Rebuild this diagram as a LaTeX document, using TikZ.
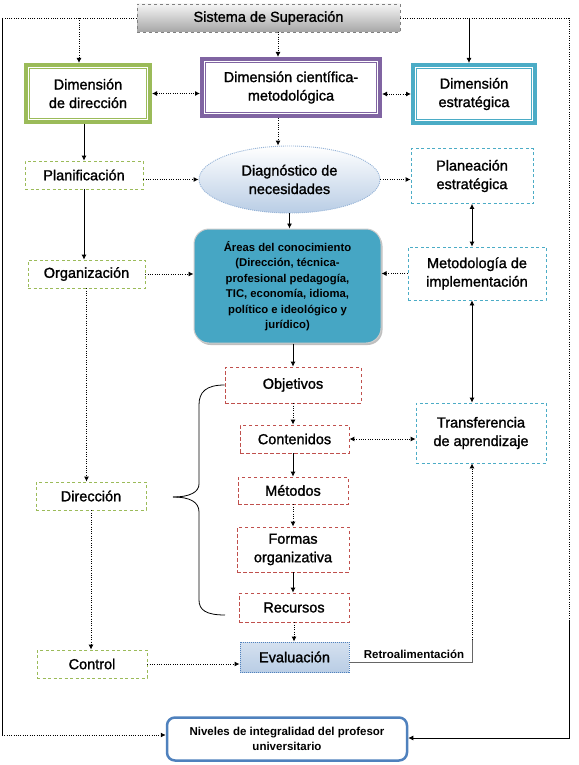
\documentclass[tikz,border=0pt]{standalone}
\usepackage{fontspec}
\setmainfont{Liberation Sans}
\newfontfamily\heavyfont[FakeBold=1.4]{Liberation Sans}
\usetikzlibrary{arrows.meta,shapes.geometric,shadows}

\definecolor{dimgreen}{RGB}{155,187,89}
\definecolor{dimpurple}{RGB}{128,100,162}
\definecolor{dimblue}{RGB}{75,172,198}
\definecolor{unitred}{RGB}{192,80,77}
\definecolor{nivblue}{RGB}{79,129,189}
\definecolor{paleblue}{RGB}{185,205,229}
\definecolor{edgeblue}{RGB}{149,179,215}
\definecolor{areafill}{RGB}{70,166,196}

\newcommand{\lbl}{\heavyfont\fontsize{14.5}{18.5}\selectfont}
\newcommand{\smallbf}{\fontsize{11.3}{15.5}\selectfont\bfseries}

\tikzset{
	dimbox/.style={draw=#1, line width=4pt, align=center, font=\lbl, inner sep=0pt},
	gbox/.style={draw=dimgreen, line width=0.8pt, dash pattern=on 3pt off 2.5pt, align=center, font=\lbl, inner sep=0pt},
	cbox/.style={draw=dimblue, line width=0.8pt, dash pattern=on 3pt off 2.5pt, align=center, font=\lbl, inner sep=0pt},
	rbox/.style={draw=unitred, line width=0.8pt, dash pattern=on 3.5pt off 2.5pt, align=center, font=\lbl, inner sep=0pt},
	dotarr/.style={line width=0.9pt, dash pattern=on 1pt off 1.3pt, -{Latex[length=5pt,width=5pt]}},
	solarr/.style={line width=0.8pt, -{Latex[length=5pt,width=5pt]}},
}

\begin{document}
\begin{tikzpicture}[x=1pt,y=-1pt]
	%%%%% START %%%%%
	\useasboundingbox (0,0) rectangle (578,765);
	
	\node[draw=gray, dashed, line width=0.8pt, top color=gray!8, bottom color=gray!70, font=\lbl, minimum width=263pt, minimum height=28pt, inner sep=0pt] (sis) at (268.5,18) {Sistema de Superación};
	
	\node[dimbox=dimgreen, minimum width=124pt, minimum height=57pt] (ddir) at (88,93.5) {Dimensión\\de dirección};
	\node[dimbox=dimpurple, minimum width=178pt, minimum height=57pt] (dcm) at (291,87.5) {Dimensión científica-\\metodológica};
	\node[dimbox=dimblue, minimum width=122pt, minimum height=58pt] (dest) at (474,94) {Dimensión\\estratégica};
	\foreach \n/\c in {ddir/dimgreen, dcm/dimpurple, dest/dimblue}
		\draw[draw=\c, line width=1.5pt] ([shift={(5.5pt,-5.5pt)}]\n.north west) rectangle ([shift={(-5.5pt,5.5pt)}]\n.south east);
	
	\node[gbox, minimum width=118pt, minimum height=28pt] (plan) at (84,175) {Planificación};
	\node[gbox, minimum width=117pt, minimum height=28pt] (org) at (86.5,274) {Organización};
	\node[gbox, minimum width=110pt, minimum height=28pt] (dirc) at (91,496) {Dirección};
	\node[gbox, minimum width=110pt, minimum height=28pt] (ctrl) at (92,664) {Control};
	
	\node[ellipse, draw=edgeblue, line width=0.9pt, dash pattern=on 1pt off 1pt, top color=white, bottom color=paleblue, align=center, font=\lbl, inner sep=0pt, minimum width=181pt, minimum height=67pt] (diag) at (289.5,179.5) {Diagnóstico de\\necesidades};
	
	\node[cbox, minimum width=122pt, minimum height=55pt] (pest) at (472,176) {Planeación\\estratégica};
	\node[cbox, minimum width=138pt, minimum height=53pt] (met) at (477,273.5) {Metodología de\\implementación};
	\node[cbox, minimum width=130pt, minimum height=60pt] (trans) at (481,433) {Transferencia\\de aprendizaje};
	
	\node[draw=black!20, line width=1pt, fill=areafill, rounded corners=15pt, drop shadow={shadow xshift=1.5pt, shadow yshift=-2pt, fill=black!50}, align=center, font=\smallbf, inner sep=0pt, minimum width=187pt, minimum height=114pt] (areas) at (287.5,286) {Áreas del conocimiento\\(Dirección, técnica-\\profesional  pedagogía,\\TIC, economía, idioma,\\político e ideológico y\\jurídico)};
	
	\node[rbox, minimum width=136pt, minimum height=36pt] (obj) at (293,385) {Objetivos};
	\node[rbox, minimum width=109pt, minimum height=28pt] (cont) at (294.5,439) {Contenidos};
	\node[rbox, minimum width=110pt, minimum height=27pt] (mets) at (293,490.5) {Métodos};
	\node[rbox, minimum width=112pt, minimum height=45pt] (formas) at (293,549.5) {Formas\\organizativa};
	\node[rbox, minimum width=110pt, minimum height=29pt] (rec) at (294,607.5) {Recursos};
	
	\node[draw=nivblue, line width=0.9pt, dash pattern=on 1pt off 1pt, top color=paleblue!60, bottom color=paleblue, font=\lbl, inner sep=0pt, minimum width=109pt, minimum height=30pt] (eval) at (294.5,657) {Evaluación};
	
	\node[draw=nivblue, line width=2.5pt, rounded corners=8pt, align=center, font=\fontsize{11.5}{14.5}\selectfont\bfseries, inner sep=0pt, minimum width=240pt, minimum height=43pt] (niv) at (287,739) {Niveles de integralidad del profesor\\universitario};
	
	\node[font=\fontsize{11.5}{12}\selectfont\bfseries, inner sep=0pt] (retro) at (414,654) {Retroalimentación};
	
	% outer frame
	\coordinate (ltop) at (2,18);
	\coordinate (lbot) at (2,735);
	\coordinate (rtop) at (569,18);
	\coordinate (rmid) at (569,620);
	\coordinate (rbot) at (569,738);
	\draw[line width=0.9pt, dash pattern=on 1pt off 1.3pt] (sis.west) -- (ltop);
	\draw[line width=0.8pt] (ltop) -- (lbot);
	\draw[dotarr] (lbot) -- (lbot -| niv.west);
	\draw[line width=0.9pt, dash pattern=on 1pt off 1.3pt] (sis.east) -- (rtop) -- (rmid);
	\draw[solarr] (rmid) -- (rbot) -- (rbot -| niv.east);
	
	% top row
	\coordinate (s1) at (79,18);
	\coordinate (s2) at (278,32);
	\coordinate (s3) at (469,18);
	\draw[dotarr] (s1) -- (s1 |- ddir.north);
	\draw[dotarr] (s2) -- (s2 |- dcm.north);
	\draw[solarr] (s3) -- (s3 |- dest.north);
	\draw[dotarr, {Latex[length=5pt,width=5pt]}-{Latex[length=5pt,width=5pt]}] (ddir.east) -- (ddir.east -| dcm.west);
	\draw[dotarr, {Latex[length=5pt,width=5pt]}-{Latex[length=5pt,width=5pt]}] (dest.west -| dcm.east) -- (dest.west);
	
	% left column
	\draw[solarr] (ddir.south -| plan.north) -- (plan.north);
	\draw[solarr] (plan.south) -- (plan.south |- org.north);
	\draw[dotarr] (org.south) -- (org.south |- dirc.north);
	\draw[dotarr] (dirc.south) -- (dirc.south |- ctrl.north);
	\draw[dotarr] (plan.east |- diag.west) -- (diag.west);
	\draw[dotarr] (org.east) -- (org.east -| areas.west);
	\draw[dotarr] (ctrl.east) -- (ctrl.east -| eval.west);
	
	% middle column
	\draw[dotarr] (dcm.south -| s2) -- (s2 |- diag.north);
	\draw[solarr] (diag.south) -- (diag.south |- areas.north);
	\draw[solarr] (areas.south -| obj.north) -- (obj.north);
	\draw[dotarr] (obj.south) -- (obj.south |- cont.north);
	\draw[solarr] (cont.south -| obj.south) -- (obj.south |- mets.north);
	\draw[dotarr] (mets.south) -- (mets.south |- formas.north);
	\draw[solarr] (formas.south) -- (formas.south |- rec.north);
	\draw[dotarr] (rec.south) -- (rec.south |- eval.north);
	
	% right column
	\draw[dotarr] (diag.east) -- (diag.east -| pest.west);
	\draw[solarr, {Latex[length=5pt,width=5pt]}-{Latex[length=5pt,width=5pt]}] (pest.south) -- (pest.south |- met.north);
	\draw[dotarr] (met.west) -- (met.west -| areas.east);
	\draw[solarr, {Latex[length=5pt,width=5pt]}-{Latex[length=5pt,width=5pt]}] (met.south -| pest.south) -- (pest.south |- trans.north);
	\draw[dotarr, {Latex[length=5pt,width=5pt]}-{Latex[length=5pt,width=5pt]}] (cont.east) -- (cont.east -| trans.west);
	
	% retroalimentacion
	\coordinate (fb) at (472,662);
	\coordinate (fbup) at (472,640);
	\draw[line width=1pt, black!60] ([yshift=-5pt]eval.east) -- (fb) -- (fbup);
	\draw[dotarr] (fbup) -- (fbup |- trans.south);
	
	% brace
	\draw[line width=0.8pt] (obj.west) .. controls (206,385) and (199,392) .. (199,405) -- (199,484) .. controls (199,492) and (190,497) .. (173,497);
	\draw[line width=0.8pt] (173,497) .. controls (190,497) and (199,502) .. (199,512) -- (199,600) .. controls (199,610) and (206,615) .. (225,615);
	
	%%%%% END %%%%%
\end{tikzpicture}
\end{document}
